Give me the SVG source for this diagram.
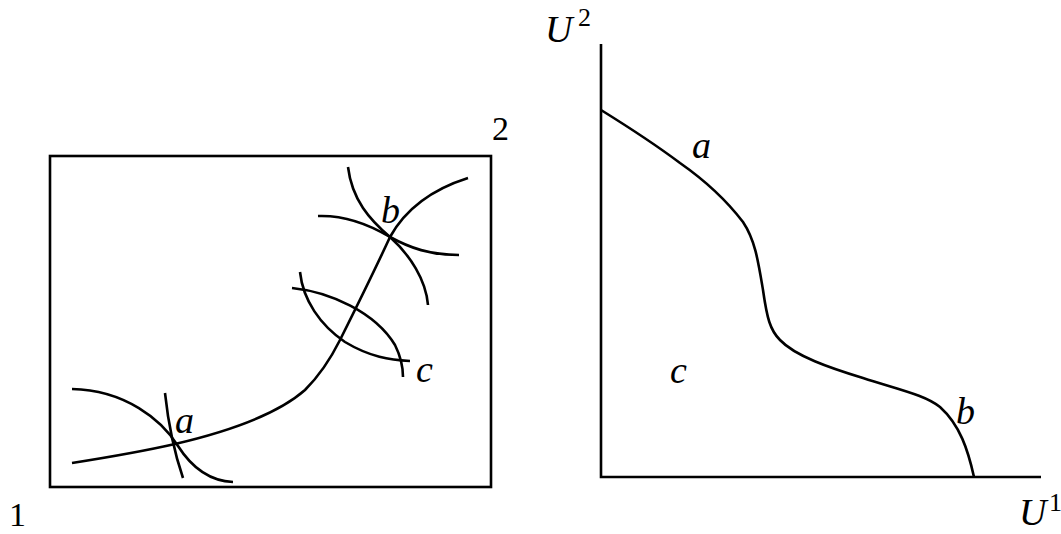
<svg xmlns="http://www.w3.org/2000/svg" width="1061" height="534" viewBox="0 0 1061 534">
<style>
.ln{fill:none;stroke:#000;stroke-width:2.6;stroke-linecap:butt}
text{font-family:'Liberation Serif','Times New Roman','DejaVu Serif',serif;fill:#000}
.it{font-style:italic;font-size:38px}
.nm{font-size:34px}
.sup{font-size:26px}
</style>
<rect width="1061" height="534" fill="#fff"/>
<g id="left-plot">
<rect class="ln" x="50" y="156" width="441" height="331"/>
<path class="ln" d="M72,463 C110,457 140,452 175,444 C235,430 280,412 305,390 C322,373 332,356 340,340 C352,316 372,276 390,237 C405,210 430,190 468,178"/>
<path class="ln" d="M72,389 C125,390 162,420 178,446 C192,468 210,481 233,482"/>
<path class="ln" d="M165,393 Q170,440 183,478"/>
<path class="ln" d="M348,167 C352,200 370,220 390,237 C410,255 426,280 428,305"/>
<path class="ln" d="M318,216 C345,215 370,225 390,237 C410,248 430,255 459,255"/>
<path class="ln" d="M292,288 C330,292 375,312 395,345 C400,355 403,366 403,377"/>
<path class="ln" d="M300,272 C303,300 320,325 345,342 C370,357 390,360 410,361"/>
<text class="it" x="175" y="433" font-family="Liberation Serif">a</text>
<text class="it" x="381" y="223" font-family="Liberation Serif">b</text>
<text class="it" x="416" y="382" font-family="Liberation Serif">c</text>
<text class="nm" x="492" y="140" font-family="Liberation Serif">2</text>
<text class="nm" x="9" y="526" font-family="Liberation Serif">1</text>
</g>
<g id="right-plot">
<path class="ln" d="M601,44 V477 H1041"/>
<path class="ln" d="M601,110 C630,128 660,148 680,163 C710,184 730,205 743,222 C755,240 758,260 763,290 C767,318 770,330 780,340 C795,356 830,368 863,378 C900,390 925,395 940,407 C960,425 968,450 974,477"/>
<text class="it" x="692" y="158" font-family="Liberation Serif">a</text>
<text class="it" x="670" y="383" font-family="Liberation Serif">c</text>
<text class="it" x="956" y="424" font-family="Liberation Serif">b</text>
<text class="it" x="545" y="42" font-family="Liberation Serif">U</text>
<text class="sup" x="578" y="26" font-family="Liberation Serif">2</text>
<text class="it" x="1019" y="525" font-family="Liberation Serif">U</text>
<text class="sup" x="1049" y="511" font-family="Liberation Serif">1</text>
</g>
</svg>
